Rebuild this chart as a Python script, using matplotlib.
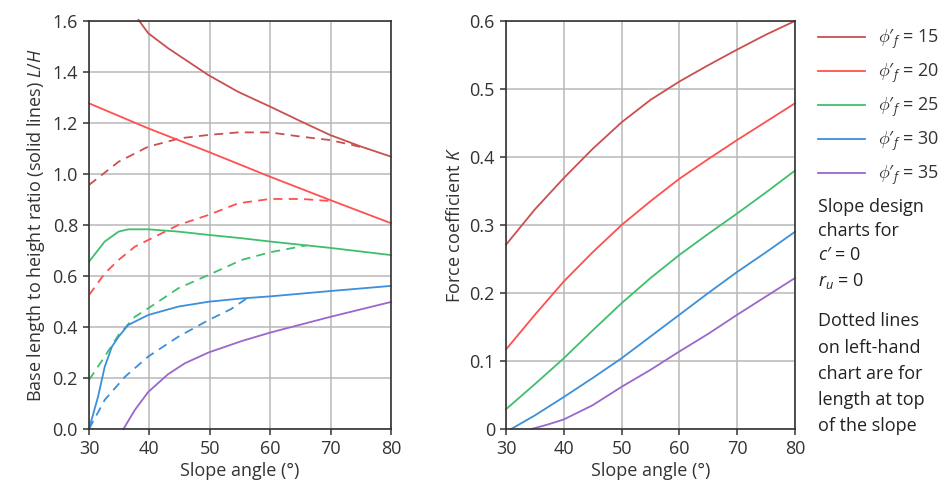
import matplotlib

matplotlib.use("Agg")
import matplotlib.pyplot as plt
from matplotlib.ticker import FormatStrFormatter, FuncFormatter

plt.rcParams["font.family"] = ["Open Sans", "DejaVu Sans"]
plt.rcParams["mathtext.fontset"] = "custom"
plt.rcParams["mathtext.it"] = "Open Sans:italic"
plt.rcParams["mathtext.rm"] = "Open Sans"

# ----- data ---------------------------------------------------------------

phi_values = [15, 20, 25, 30, 35]
colors = ["#c9504f", "#ff4f4f", "#3fbf6c", "#3b8fdb", "#9a67cc"]

# left chart: base length / height ratio (solid) and length at top (dashed)
lh_solid_x = {
    15: [38.2, 39.8, 43.1, 49.75, 54.7, 60, 65.2, 69.9, 75.1, 80],
    20: [30, 39.8, 49.75, 60, 69.9, 80],
    25: [30, 32.6, 34.9, 36.5, 39.8, 44.8, 49.8, 55.3, 60, 70, 80],
    30: [30, 31.5, 32.6, 33.8, 34.9, 36.5, 39.8, 44.8, 49.8, 55.3, 60, 70, 80],
    35: [35.7, 37.6, 39.8, 43.1, 45.9, 49.8, 55.3, 60, 70, 80],
}
lh_solid_y = {
    15: [1.604, 1.552, 1.493, 1.388, 1.322, 1.264, 1.205, 1.153, 1.107, 1.068],
    20: [1.277, 1.179, 1.087, 0.989, 0.898, 0.807],
    25: [0.656, 0.735, 0.774, 0.783, 0.783, 0.774, 0.761, 0.748, 0.735, 0.71, 0.682],
    30: [0.0, 0.127, 0.244, 0.323, 0.362, 0.408, 0.447, 0.48, 0.499, 0.512, 0.52, 0.541, 0.561],
    35: [0.0, 0.075, 0.145, 0.215, 0.258, 0.30, 0.345, 0.378, 0.44, 0.498],
}
lh_top_x = {
    15: [30, 34.9, 39.8, 45.1, 49.75, 54.7, 60, 65.2, 69.9, 73.5, 76],
    20: [30, 32.6, 34.9, 37.6, 39.8, 44.8, 49.75, 54.7, 60, 65.2, 69.9],
    25: [30, 32.6, 34.9, 37.6, 39.8, 44.8, 49.8, 55.3, 60, 66],
    30: [30, 32.6, 35.96, 39.8, 44.8, 49.8, 53.5, 56.3],
}
lh_top_y = {
    15: [0.957, 1.048, 1.107, 1.14, 1.153, 1.163, 1.163, 1.146, 1.133, 1.114, 1.10],
    20: [0.525, 0.61, 0.663, 0.715, 0.741, 0.80, 0.839, 0.885, 0.902, 0.902, 0.894],
    25: [0.192, 0.284, 0.369, 0.44, 0.473, 0.552, 0.604, 0.663, 0.693, 0.72],
    30: [0.0, 0.114, 0.205, 0.284, 0.362, 0.427, 0.47, 0.515],
}

# right chart: force coefficient K
k_x = {
    15: [30, 35, 40, 45, 50, 55, 60, 65, 70, 75, 80],
    20: [30, 35, 40, 45, 50, 55, 60, 65, 70, 75, 80],
    25: [30, 35, 40, 45, 50, 55, 60, 65, 70, 75, 80],
    30: [30.9, 35, 40, 45, 50, 55, 60, 65, 70, 75, 80],
    35: [34.4, 37, 40, 45, 50, 55, 60, 65, 70, 75, 80],
}
k_y = {
    15: [0.271, 0.323, 0.369, 0.412, 0.451, 0.484, 0.511, 0.535, 0.558, 0.58, 0.60],
    20: [0.117, 0.168, 0.217, 0.26, 0.30, 0.335, 0.368, 0.397, 0.425, 0.452, 0.479],
    25: [0.029, 0.066, 0.104, 0.145, 0.185, 0.222, 0.256, 0.287, 0.317, 0.348, 0.38],
    30: [0.0, 0.02, 0.047, 0.075, 0.104, 0.136, 0.168, 0.2, 0.231, 0.26, 0.29],
    35: [0.0, 0.006, 0.014, 0.035, 0.062, 0.087, 0.114, 0.14, 0.168, 0.195, 0.222],
}

# ----- plot ---------------------------------------------------------------

fig = plt.figure(figsize=(9.46, 4.98), dpi=100)
ax1 = fig.add_axes([0.0941, 0.1386, 0.3192, 0.8193])
ax2 = fig.add_axes([0.5349, 0.1386, 0.3055, 0.8193])

lw = 1.3
dash = (0, (5, 3.5))
handles = []
for phi, c in zip(phi_values, colors):
    ax1.plot(lh_solid_x[phi], lh_solid_y[phi], color=c, lw=lw, clip_on=False)
    if phi in lh_top_x:
        ax1.plot(lh_top_x[phi], lh_top_y[phi], color=c, lw=lw, ls=dash)
    (h,) = ax2.plot(k_x[phi], k_y[phi], color=c, lw=lw, clip_on=False)
    handles.append(h)

fs = 13
for ax in (ax1, ax2):
    ax.set_xlim(30, 80)
    ax.set_xticks(range(30, 81, 10))
    ax.grid(color="#b8b8b8", lw=1.1)
    ax.set_axisbelow(True)
    ax.tick_params(labelsize=fs, color="#333333", length=4, width=1.1, labelcolor="#333333", pad=4)
    for sp in ax.spines.values():
        sp.set_color("#333333")
        sp.set_linewidth(1.2)
    ax.set_xlabel("Slope angle (°)", fontsize=fs, color="#333333", labelpad=3)

ax1.set_ylim(0, 1.6)
ax1.set_yticks([0, 0.2, 0.4, 0.6, 0.8, 1.0, 1.2, 1.4, 1.6])
ax1.yaxis.set_major_formatter(FormatStrFormatter("%.1f"))
ax1.set_ylabel("Base length to height ratio (solid lines) $L/H$", fontsize=fs, color="#333333", labelpad=4)

ax2.set_ylim(0, 0.6)
ax2.set_yticks([0, 0.1, 0.2, 0.3, 0.4, 0.5, 0.6])
ax2.yaxis.set_major_formatter(FuncFormatter(lambda v, _: "0" if v == 0 else f"{v:.1f}"))
ax2.set_ylabel("Force coefficient $K$", fontsize=fs, color="#333333", labelpad=4)

labels = [f"$\\phi$′$_f$ = {p}" for p in phi_values]
fig.legend(handles, labels, loc="upper left", bbox_to_anchor=(0.857, 0.959),
           frameon=False, fontsize=fs, handlelength=2.6, handletextpad=0.7,
           labelspacing=0.6, borderaxespad=0, labelcolor="#333333")

note1 = "Slope design\ncharts for\n$c$′ = 0\n$r_u$ = 0"
note2 = "Dotted lines\non left-hand\nchart are for\nlength at top\nof the slope"
fig.text(0.8647, 0.603, note1, fontsize=fs, color="#222222", va="top", linespacing=1.45)
fig.text(0.8647, 0.3725, note2, fontsize=fs, color="#222222", va="top", linespacing=1.58)

fig.savefig("out.png", dpi=100)
plt.close(fig)
